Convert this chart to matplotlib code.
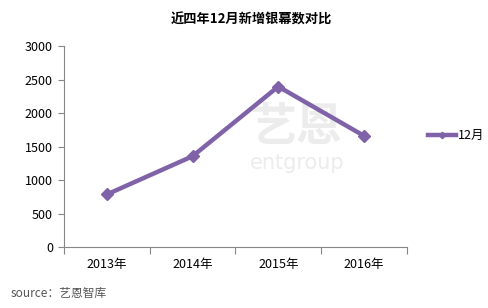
import matplotlib.pyplot as plt
import numpy as np

plt.rcParams['font.family'] = ['Noto Sans CJK SC', 'DejaVu Sans']

years = ['2013年', '2014年', '2015年', '2016年']
screens = [785, 1355, 2395, 1660]
series_name = '12月'
title = '近四年12月新增银幕数对比'
source = 'source：艺恩智库'

purple = '#7f62a8'
axis_grey = '#868686'

fig = plt.figure(figsize=(4.89, 3.08), dpi=100)
ax = fig.add_axes([0.1309, 0.198, 0.701, 0.6526])

x = np.arange(len(years))
ax.plot(x, screens, color=purple, lw=3.2, marker='D', ms=6.5,
        solid_joinstyle='round', label=series_name, zorder=3)

# watermark
ax.text(0.68, 0.59, '艺恩', transform=ax.transAxes, fontsize=33, color='#ececec',
        fontweight='bold', ha='center', va='center', zorder=1)
ax.text(0.68, 0.42, 'entgroup', transform=ax.transAxes, fontsize=15, color='#ececec',
        ha='center', va='center', family='DejaVu Sans', zorder=1)

ax.set_xlim(-0.5, len(years) - 0.5)
ax.set_ylim(0, 3000)
ax.set_yticks(np.arange(0, 3001, 500))
ax.set_xticks(x)
ax.set_xticklabels(years)
ax.set_xticks(np.arange(-0.5, len(years)), minor=True)
ax.tick_params(axis='x', which='major', length=0, pad=8, labelsize=9)
ax.tick_params(axis='x', which='minor', length=5, color=axis_grey, width=0.8)
ax.tick_params(axis='y', length=4, color=axis_grey, width=0.8, labelsize=9, pad=4)

for s in ['top', 'right']:
    ax.spines[s].set_visible(False)
for s in ['left', 'bottom']:
    ax.spines[s].set_color(axis_grey)
    ax.spines[s].set_linewidth(0.8)

fig.text(0.515, 0.935, title, ha='center', va='center', fontsize=9.5, fontweight='bold')
fig.text(0.022, 0.048, source, ha='left', va='center', fontsize=8.5, color='#555555')

ax.legend(loc='center left', bbox_to_anchor=(1.03, 0.555), frameon=False,
          fontsize=9, handlelength=2.2, handletextpad=0.2, markerscale=0.5)

fig.savefig('out.png', dpi=100)
